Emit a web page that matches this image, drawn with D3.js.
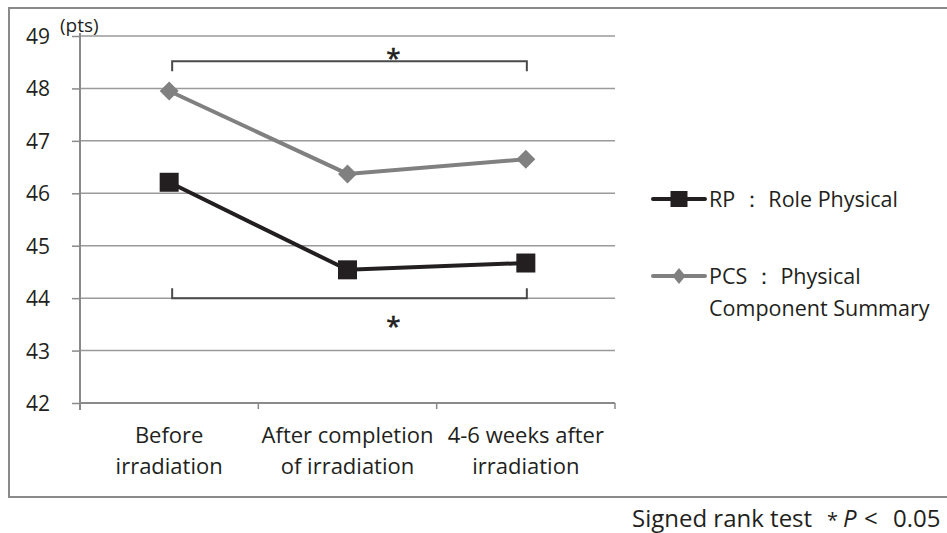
<!DOCTYPE html>
<html>
<head>
<meta charset="utf-8">
<script src="https://cdn.jsdelivr.net/npm/d3@7"></script>
<style>
  body { margin: 0; background: #fff; }
  text { font-family: "Open Sans", "Noto Sans", sans-serif; fill: #231f20; }
</style>
</head>
<body>
<script>
var categories = [["Before", "irradiation"], ["After completion", "of irradiation"], ["4-6 weeks after", "irradiation"]];
var rpValues = [46.21, 44.54, 44.67];
var pcsValues = [47.95, 46.37, 46.65];
var yTicks = [42, 43, 44, 45, 46, 47, 48, 49];

var W = 947, H = 533;
var margin = { top: 36, left: 80 },
    width = 535,
    height = 367;

var svg = d3.select("body").append("svg")
    .attr("width", W)
    .attr("height", H);

// outer frame
svg.append("rect")
    .attr("x", 9).attr("y", 8)
    .attr("width", 960).attr("height", 489)
    .attr("fill", "none")
    .attr("stroke", "#8a8a8a")
    .attr("stroke-width", 2);

var g = svg.append("g")
    .attr("transform", "translate(" + margin.left + "," + margin.top + ")");

var xScale = d3.scaleBand().domain(d3.range(categories.length)).range([0, width]);
var yScale = d3.scaleLinear().domain([42, 49]).range([height, 0]);
var xc = function (i) { return xScale(i) + xScale.bandwidth() / 2; };

// diamond path, w x h
function diamondPath(w, h) {
    var p = d3.path();
    p.moveTo(0, -h / 2); p.lineTo(w / 2, 0); p.lineTo(0, h / 2); p.lineTo(-w / 2, 0); p.closePath();
    return p.toString();
}

// gridlines
g.append("g").selectAll("line")
    .data(yTicks.slice(1))
    .enter().append("line")
    .attr("x1", 0).attr("x2", width)
    .attr("y1", function (d) { return yScale(d); })
    .attr("y2", function (d) { return yScale(d); })
    .attr("stroke", "#9a9a9a")
    .attr("stroke-width", 1.5);

// y axis
var yAxis = d3.axisLeft(yScale).tickValues(yTicks).tickFormat(d3.format("d")).tickSize(8);
var ya = g.append("g").call(yAxis);
ya.select(".domain").attr("stroke", "#8a8a8a").attr("stroke-width", 2)
    .attr("d", "M0,-3V" + (height + 7));
ya.selectAll(".tick line").attr("stroke", "#8a8a8a").attr("stroke-width", 1.5);
ya.selectAll(".tick text").style("font-size", "21px").attr("fill", "#231f20")
    .attr("x", -30).attr("dy", "0.36em");

g.append("text")
    .attr("x", -20).attr("y", -4)
    .style("font-size", "19px")
    .text("(pts)");

// x axis
var xa = g.append("g").attr("transform", "translate(0," + height + ")");
xa.append("line").attr("x1", 0).attr("x2", width)
    .attr("stroke", "#8a8a8a").attr("stroke-width", 2);
xa.selectAll(".xtick")
    .data(d3.range(categories.length + 1))
    .enter().append("line")
    .attr("class", "xtick")
    .attr("x1", function (d) { return d * xScale.step(); })
    .attr("x2", function (d) { return d * xScale.step(); })
    .attr("y1", 0).attr("y2", 6)
    .attr("stroke", "#8a8a8a").attr("stroke-width", 1.5);
var xl = xa.selectAll(".xlab")
    .data(categories)
    .enter().append("text")
    .attr("class", "xlab")
    .attr("text-anchor", "middle")
    .style("font-size", "22px");
xl.each(function (d, i) {
    var t = d3.select(this);
    d.forEach(function (s, k) {
        t.append("tspan").attr("x", xc(i)).attr("y", 40 + k * 31).text(s);
    });
});

// significance brackets
function bracket(yv, dir, starY) {
    var y0 = yScale(yv);
    var x0 = xc(0) + 3, x1 = xc(2) + 1;
    g.append("path")
        .attr("d", "M" + x0 + "," + (y0 + dir * 10) + "V" + y0 + "H" + x1 + "V" + (y0 + dir * 10))
        .attr("fill", "none")
        .attr("stroke", "#4a4a4a")
        .attr("stroke-width", 2);
    g.append("text")
        .attr("x", xc(1) + 46).attr("y", starY)
        .attr("text-anchor", "middle")
        .style("font-size", "26px")
        .style("stroke", "#231f20").style("stroke-width", 0.6)
        .text("*");
}
bracket(48.52, 1, 31);
bracket(44.0, -1, 299);

// lines
var line = d3.line()
    .x(function (d, i) { return xc(i); })
    .y(function (d) { return yScale(d); });

g.append("path").datum(pcsValues)
    .attr("d", line)
    .attr("fill", "none").attr("stroke", "#808080").attr("stroke-width", 4);
g.append("path").datum(rpValues)
    .attr("d", line)
    .attr("fill", "none").attr("stroke", "#231f20").attr("stroke-width", 4);

g.selectAll(".pcs")
    .data(pcsValues)
    .enter().append("path")
    .attr("class", "pcs")
    .attr("transform", function (d, i) { return "translate(" + xc(i) + "," + yScale(d) + ")"; })
    .attr("d", diamondPath(19, 19))
    .attr("fill", "#808080");

g.selectAll(".rp")
    .data(rpValues)
    .enter().append("rect")
    .attr("class", "rp")
    .attr("x", function (d, i) { return xc(i) - 9.5; })
    .attr("y", function (d) { return yScale(d) - 9.5; })
    .attr("width", 19).attr("height", 19)
    .attr("fill", "#231f20");

// legend
var legend = svg.append("g");
var lx = 653, lw = 52;
legend.append("line").attr("x1", lx).attr("x2", lx + lw).attr("y1", 199).attr("y2", 199)
    .attr("stroke", "#231f20").attr("stroke-width", 4).attr("stroke-linecap", "round");
legend.append("rect").attr("x", lx + lw / 2 - 8.5).attr("y", 191).attr("width", 17).attr("height", 16)
    .attr("fill", "#231f20");
legend.append("text").attr("x", 709).attr("y", 199).attr("dy", "0.36em")
    .style("font-size", "21.5px").text("RP ： Role Physical");

legend.append("line").attr("x1", lx).attr("x2", lx + lw).attr("y1", 276).attr("y2", 276)
    .attr("stroke", "#808080").attr("stroke-width", 4).attr("stroke-linecap", "round");
legend.append("path").attr("transform", "translate(" + (lx + lw / 2) + ",276)")
    .attr("d", diamondPath(13, 16))
    .attr("fill", "#808080");
var lt = legend.append("text").style("font-size", "21.5px");
lt.append("tspan").attr("x", 709).attr("y", 284).text("PCS ： Physical");
lt.append("tspan").attr("x", 709).attr("y", 316).text("Component Summary");

// footnote
var fn = svg.append("text").attr("x", 632).attr("y", 527).style("font-size", "24px");
fn.append("tspan").text("Signed rank test");
fn.append("tspan").attr("x", 827).style("font-size", "20px").text("*");
fn.append("tspan").attr("x", 843).style("font-style", "italic").text("P");
fn.append("tspan").attr("x", 864).text("<");
fn.append("tspan").attr("x", 893).text("0.05");
</script>
</body>
</html>
